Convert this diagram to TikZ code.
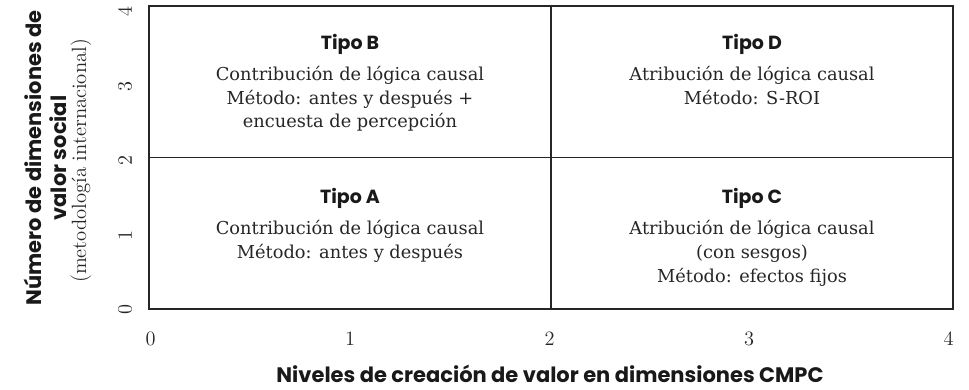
\documentclass[tikz,border=0pt]{standalone}
\usepackage{fontspec}
\newfontfamily\popfont{Poppins}
\newfontfamily\bodyfont{DejaVu Serif}
\begin{document}
\begin{tikzpicture}[x=1pt,y=-1pt,
  gridline/.style={line width=1.8pt,draw=black!85},
  quadtitle/.style={anchor=base,inner sep=0pt,font=\popfont\bfseries\fontsize{19}{22}\selectfont,text=black!90},
  quadtext/.style={anchor=base,inner sep=0pt,font=\bodyfont\fontsize{17.8}{22}\selectfont,text=black!85},
  ticklab/.style={anchor=center,inner sep=0pt,font=\rmfamily\fontsize{12}{14}\selectfont,scale=1.7,text=black!85},
  axtitle/.style={anchor=center,inner sep=0pt,font=\popfont\bfseries\fontsize{21}{24}\selectfont,text=black!90},
  axsub/.style={anchor=center,inner sep=0pt,font=\rmfamily\fontsize{12}{14}\selectfont,scale=1.72,text=black!85}]
\useasboundingbox (0,0) rectangle (969,390);
% grid
\draw[gridline] (149,6) rectangle (953,309);
\draw[gridline] (551,6) -- (551,309);
\draw[gridline] (149,157.5) -- (953,157.5);
% Tipo B
\node[quadtitle] (tB) at (350,50) {Tipo B};
\node[quadtext] (tB1) at (350,81) {Contribución de lógica causal};
\node[quadtext] (tB2) at (350,104.5) {Método: antes y después +};
\node[quadtext] (tB3) at (350,128) {encuesta de percepción};
% Tipo D
\node[quadtitle] (tD) at (752,50) {Tipo D};
\node[quadtext] (tD1) at (752,81) {Atribución de lógica causal};
\node[quadtext] (tD2) at (752,104.5) {Método: S-ROI};
% Tipo A
\node[quadtitle] (tA) at (350,204) {Tipo A};
\node[quadtext] (tA1) at (350,235) {Contribución de lógica causal};
\node[quadtext] (tA2) at (350,258.5) {Método: antes y después};
% Tipo C
\node[quadtitle] (tC) at (752,204) {Tipo C};
\node[quadtext] (tC1) at (752,235) {Atribución de lógica causal};
\node[quadtext] (tC2) at (752,258.5) {(con sesgos)};
\node[quadtext] (tC3) at (752,282) {Método: efectos fijos};
% x ticks
\foreach \k in {0,...,4} {
  \node[ticklab] (xt\k) at ({150.5+199.5*\k},339) {\k};
}
% y ticks
\foreach \k in {0,...,4} {
  \node[ticklab,rotate=90] (yt\k) at (125,{310-74.5*\k}) {\k};
}
% axis titles
\node[axtitle,anchor=base] (xtitle) at (550,382.5) {Niveles de creación de valor en dimensiones CMPC};
\node[axtitle,rotate=90] (ytitle1) at (33,158) {Número de dimensiones de};
\node[axtitle,rotate=90] (ytitle2) at (58,158) {valor social};
\node[axsub,rotate=90] (ytitle3) at (81,161) {(metodología internacional)};
\end{tikzpicture}
\end{document}
